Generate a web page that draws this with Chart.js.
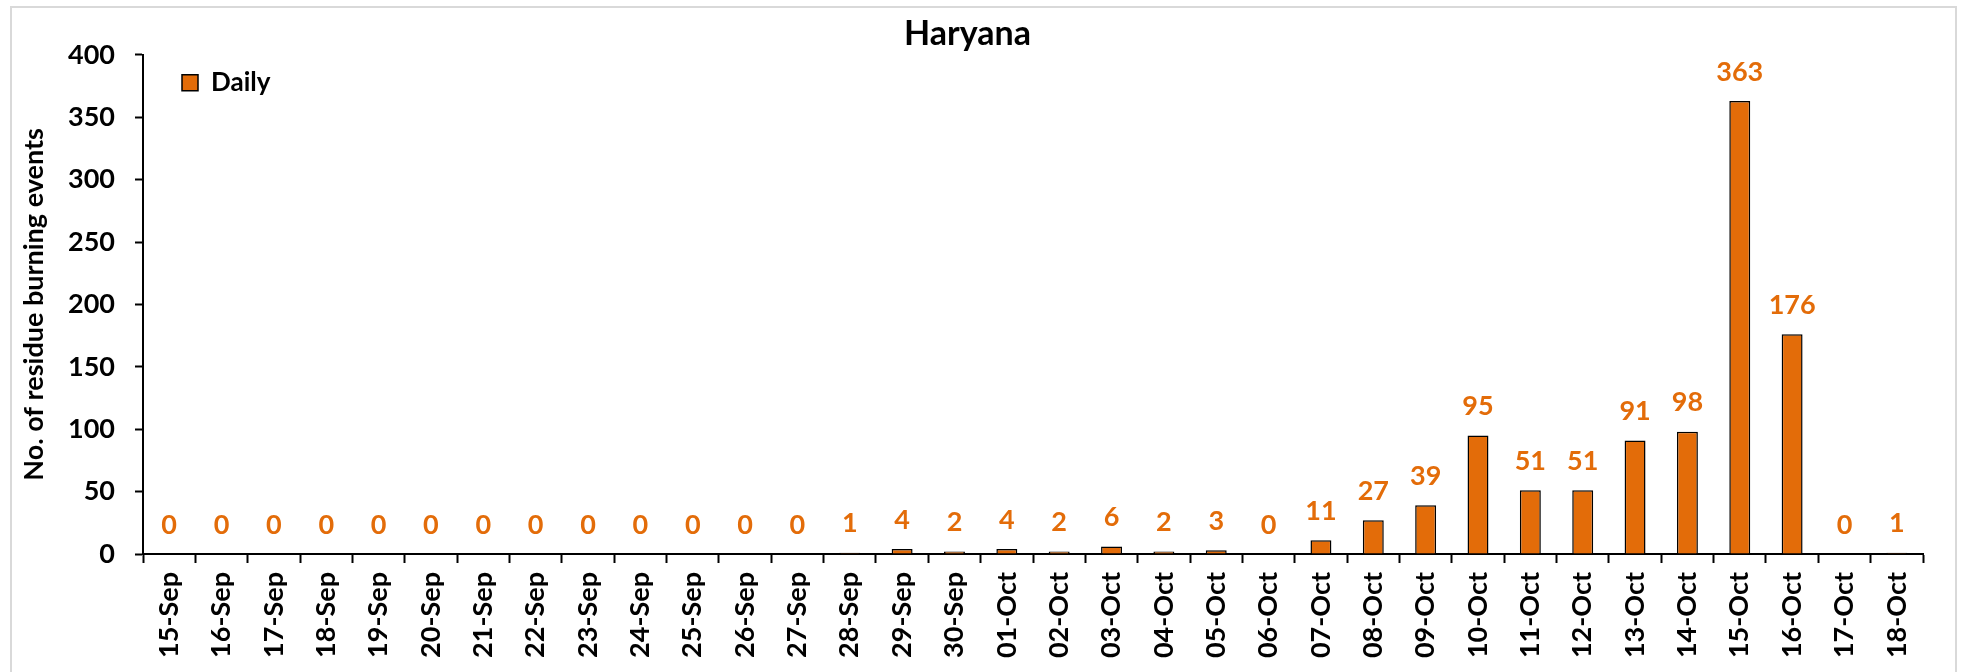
<!DOCTYPE html>
<html>
<head>
<meta charset="utf-8">
<script src="https://cdn.jsdelivr.net/npm/chart.js@4/dist/chart.umd.min.js"></script>
<style>
  html, body { margin: 0; padding: 0; background: #fff; }
  #wrap { width: 1966px; height: 672px; }
</style>
</head>
<body>
<div id="wrap"><canvas id="myChart" width="1966" height="672"></canvas></div>
<script>
const days = [
  '15-Sep', '16-Sep', '17-Sep', '18-Sep', '19-Sep', '20-Sep', '21-Sep', '22-Sep',
  '23-Sep', '24-Sep', '25-Sep', '26-Sep', '27-Sep', '28-Sep', '29-Sep', '30-Sep',
  '01-Oct', '02-Oct', '03-Oct', '04-Oct', '05-Oct', '06-Oct', '07-Oct', '08-Oct',
  '09-Oct', '10-Oct', '11-Oct', '12-Oct', '13-Oct', '14-Oct', '15-Oct', '16-Oct',
  '17-Oct', '18-Oct',
];
const daily = [
  0, 0, 0, 0, 0, 0, 0, 0,
  0, 0, 0, 0, 0, 1, 4, 2,
  4, 2, 6, 2, 3, 0, 11, 27,
  39, 95, 51, 51, 91, 98, 363, 176,
  0, 1,
];
const yTicks = [0, 50, 100, 150, 200, 250, 300, 350, 400];

const orange = '#E36C09';
const font = 'Lato, "Open Sans", sans-serif';

// grey frame round the whole chart, like the Excel chart border
const frame = {
  id: 'frame',
  beforeDraw(chart) {
    const { ctx } = chart;
    ctx.save();
    ctx.strokeStyle = '#D9D9D9';
    ctx.lineWidth = 2;
    ctx.strokeRect(11, 7, 1945, 700);
    ctx.restore();
  },
};

// put the legend in the top-left corner of the plot
const legendShift = {
  id: 'legendShift',
  beforeDraw(chart) {
    chart.legend.left = chart.chartArea.left + 23;
    chart.legend.top = chart.chartArea.top - 1;
  },
};

// value labels above each bar
const barLabels = {
  id: 'barLabels',
  afterDatasetsDraw(chart) {
    const { ctx } = chart;
    const meta = chart.getDatasetMeta(0);
    ctx.save();
    ctx.fillStyle = orange;
    ctx.font = `bold 27px ${font}`;
    ctx.textAlign = 'center';
    ctx.textBaseline = 'middle';
    meta.data.forEach((bar, i) => {
      ctx.fillText(String(daily[i]), bar.x, bar.y - 29);
    });
    ctx.restore();
  },
};

new Chart(document.getElementById('myChart'), {
  type: 'bar',
  data: {
    labels: days,
    datasets: [
      {
        label: 'Daily',
        data: daily,
        backgroundColor: orange,
        borderColor: '#000',
        borderWidth: 1.5,
        borderSkipped: 'bottom',
        categoryPercentage: 1,
        barPercentage: 0.4,
      },
    ],
  },
  options: {
    responsive: false,
    animation: false,
    events: [],
    layout: { padding: { left: 12, right: 43, top: 7, bottom: 0 } },
    plugins: {
      title: {
        display: true,
        text: 'Haryana',
        color: '#000',
        font: { family: font, size: 34, weight: 'bold' },
        padding: { top: 7, bottom: 0 },
      },
      legend: {
        position: 'chartArea',
        align: 'start',
        labels: {
          color: '#000',
          font: { family: font, size: 26, weight: 'bold' },
          boxWidth: 16,
          boxHeight: 16,
          padding: 16,
        },
      },
      tooltip: { enabled: false },
    },
    scales: {
      x: {
        grid: {
          display: true,
          drawOnChartArea: false,
          drawTicks: true,
          tickLength: 9,
          tickWidth: 2,
          tickColor: '#000',
          offset: true,
        },
        border: { color: '#000', width: 2 },
        ticks: {
          color: '#000',
          font: { family: font, size: 27, weight: 'bold' },
          minRotation: 90,
          maxRotation: 90,
          autoSkip: false,
          padding: 9,
        },
        afterFit(scale) { scale.height = 118; },
      },
      y: {
        min: 0,
        max: 400,
        afterBuildTicks(scale) { scale.ticks = yTicks.map((v) => ({ value: v })); },
        grid: {
          display: true,
          drawOnChartArea: false,
          drawTicks: true,
          tickLength: 8,
          tickWidth: 2,
          tickColor: '#000',
        },
        border: { color: '#000', width: 2 },
        ticks: {
          color: '#000',
          font: { family: font, size: 27, weight: 'bold' },
          padding: 20,
        },
        title: {
          display: true,
          text: 'No. of residue burning events',
          color: '#000',
          font: { family: font, size: 27, weight: 'bold' },
          padding: { top: 6, bottom: 10 },
        },
        afterFit(scale) { scale.width = 131; },
      },
    },
  },
  plugins: [frame, legendShift, barLabels],
});
</script>
</body>
</html>
